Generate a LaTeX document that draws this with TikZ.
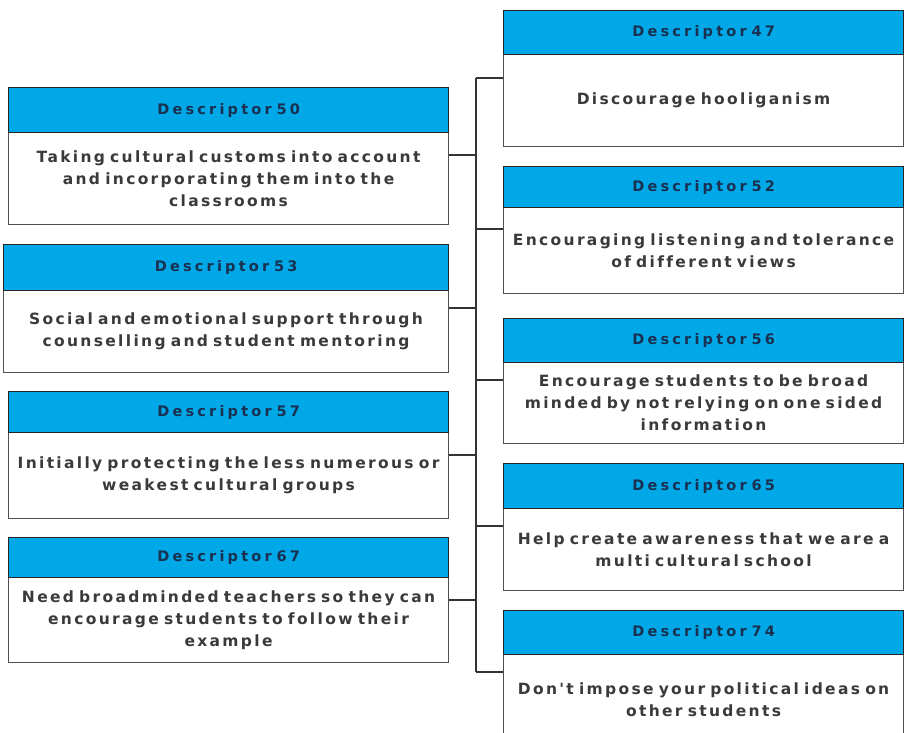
\documentclass[tikz,border=0pt]{standalone}
\usepackage{fontspec}
\setmainfont{DejaVu Sans}
\newfontfamily\bodyfam[LetterSpace=15,Ligatures=NoCommon]{DejaVu Sans}
\newfontfamily\headfam[LetterSpace=22,Ligatures=NoCommon]{DejaVu Sans}
\definecolor{hdrblue}{RGB}{0,168,232}
\definecolor{hdrtext}{RGB}{25,48,80}
\definecolor{bodytext}{RGB}{58,58,58}
\definecolor{edge}{RGB}{80,80,80}
\tikzset{
  hdr/.style={draw=black!85, line width=1.3pt, fill=hdrblue, anchor=north west, inner sep=0pt,
    align=center, text=hdrtext, font={\headfam\bfseries\fontsize{14.5}{16}\selectfont\fontdimen2\font=9pt\relax}},
  bodybox/.style={draw=edge, line width=1.1pt, fill=white, anchor=north west, inner sep=0pt,
    align=center, text=bodytext, font={\bodyfam\bfseries\fontsize{15.5}{22}\selectfont\fontdimen2\font=11pt\relax}},
  conn/.style={draw=black!80, line width=1.2pt}
}
\newcommand\mkdesc[8]{%
  \node[bodybox, text width=#6, minimum height=#5-#4] (b#1) at (#2,-#4) {#8};
  \node[hdr, text width=#6, minimum height=#4-#3] (h#1) at (#2,-#3) {Descriptor #7};
}
\begin{document}
\begin{tikzpicture}[x=1pt,y=1pt]
\useasboundingbox (0,0) rectangle (905,-732);
\fill[white] (0,0) rectangle (905,-732);
\clip (0,0) rectangle (905,-732);
% left column
\mkdesc{50}{8}{87}{132}{224}{440pt}{50}{Taking cultural customs into account\\and incorporating them into the\\classrooms}
\mkdesc{53}{3}{244}{290}{372}{445pt}{53}{Social and emotional support through\\counselling and student mentoring}
\mkdesc{57}{8}{391}{432}{518}{440pt}{57}{Initially protecting the less numerous or\\weakest cultural groups}
\mkdesc{67}{8}{537}{577}{662}{440pt}{67}{Need broadminded teachers so they can\\encourage students to follow their\\example}
% right column
\mkdesc{47}{503}{10}{54}{146}{400pt}{47}{Discourage hooliganism}
\mkdesc{52}{503}{166}{207}{293}{400pt}{52}{Encouraging listening and tolerance\\of different views}
\mkdesc{56}{503}{318}{362}{443}{400pt}{56}{Encourage students to be broad\\minded by not relying on one sided\\information}
\mkdesc{65}{503}{463}{508}{590}{400pt}{65}{Help create awareness that we are a\\multi cultural school}
\mkdesc{74}{503}{610}{654}{745}{400pt}{74}{Don't impose your political ideas on\\other students}
% connectors
\coordinate (trunk) at (476,0);
\coordinate (s50) at ([yshift=-23pt]b50.north east);
\coordinate (s53) at ([yshift=-18pt]b53.north east);
\coordinate (s57) at ([yshift=-23pt]b57.north east);
\coordinate (s67) at ([yshift=-23pt]b67.north east);
\coordinate (s47) at ([yshift=-24pt]b47.north west);
\coordinate (s52) at ([yshift=-22pt]b52.north west);
\coordinate (s56) at ([yshift=-18pt]b56.north west);
\coordinate (s65) at ([yshift=-18pt]b65.north west);
\coordinate (s74) at ([yshift=-18pt]b74.north west);
\draw[conn] (s47 -| trunk) -- (s74 -| trunk);
\foreach \s in {50,53,57,67} {\draw[conn] (s\s) -- (s\s -| trunk);}
\foreach \s in {47,52,56,65,74} {\draw[conn] (s\s -| trunk) -- (s\s);}
\end{tikzpicture}
\end{document}
